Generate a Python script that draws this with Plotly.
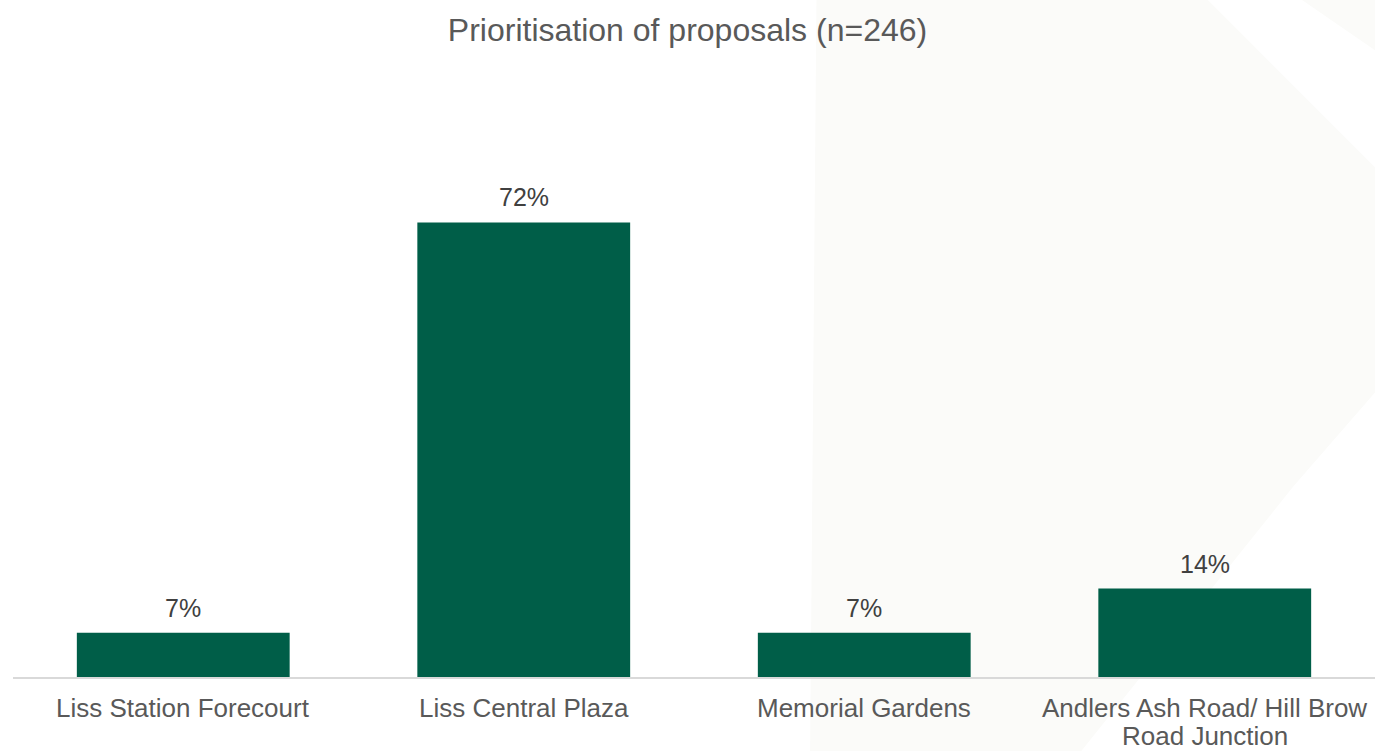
import plotly.graph_objects as go

# Survey result: share of respondents prioritising each proposal
categories = [
    "Liss Station Forecourt",
    "Liss Central Plaza",
    "Memorial Gardens",
    "Andlers Ash Road/ Hill Brow Road Junction",
]
# Category labels as displayed under the axis (one entry per line)
category_lines = [
    ["Liss Station Forecourt"],
    ["Liss Central Plaza"],
    ["Memorial Gardens"],
    ["Andlers Ash Road/ Hill Brow", "Road Junction"],
]
shares = [7, 72, 7, 14]
title_text = "Prioritisation of proposals (n=246)"

bar_color = "#005E48"
text_color = "#595959"
label_color = "#404040"
font_family = "Liberation Sans, Arial, sans-serif"

fig = go.Figure()
fig.add_trace(go.Bar(
    x=categories,
    y=shares,
    marker=dict(color=bar_color, line=dict(width=0)),
    hoverinfo="skip",
))

# Value labels above each bar
for cat, val in zip(categories, shares):
    fig.add_annotation(
        x=cat, y=val, text=f"{val}%", showarrow=False,
        yanchor="bottom", yshift=9,
        font=dict(family=font_family, size=25, color=label_color),
    )

# Category labels below the axis, with tight line spacing
for cat, lines in zip(categories, category_lines):
    for i, line in enumerate(lines):
        fig.add_annotation(
            x=cat, xref="x", y=0, yref="paper", text=line, showarrow=False,
            yanchor="middle", yshift=-31 - 28 * i,
            font=dict(family=font_family, size=26, color=text_color),
        )

# Faint decorative background panels on the right-hand side
fig.add_shape(type="path", xref="paper", yref="paper", layer="below",
              path="M 0.59 1.2 L 0.866 1.2 L 1.01 0.86 L 1.01 0.52 L 0.94 0.33 "
                   "L 0.76 -0.2 L 0.585 -0.2 Z",
              fillcolor="#FBFBF9", line=dict(width=0))
fig.add_shape(type="path", xref="paper", yref="paper", layer="below",
              path="M 0.93 1.2 L 1.01 1.2 L 1.01 1.07 Z",
              fillcolor="#FBFBF9", line=dict(width=0))

fig.update_layout(
    width=1375, height=751,
    margin=dict(l=13, r=0, t=100, b=74),
    paper_bgcolor="white",
    plot_bgcolor="rgba(0,0,0,0)",
    bargap=0.375,
    showlegend=False,
    title=dict(
        text=title_text, x=0.5, xanchor="center",
        y=1 - 19 / 751, yanchor="top",
        font=dict(family=font_family, size=32, color=text_color),
    ),
    xaxis=dict(
        showline=True, linecolor="#D9D9D9", linewidth=2,
        ticks="", showticklabels=False, automargin=False,
        showgrid=False,
    ),
    yaxis=dict(
        range=[0, 91.4], visible=False, showgrid=False, zeroline=False,
        automargin=False,
    ),
)

fig.write_html("out.html")
